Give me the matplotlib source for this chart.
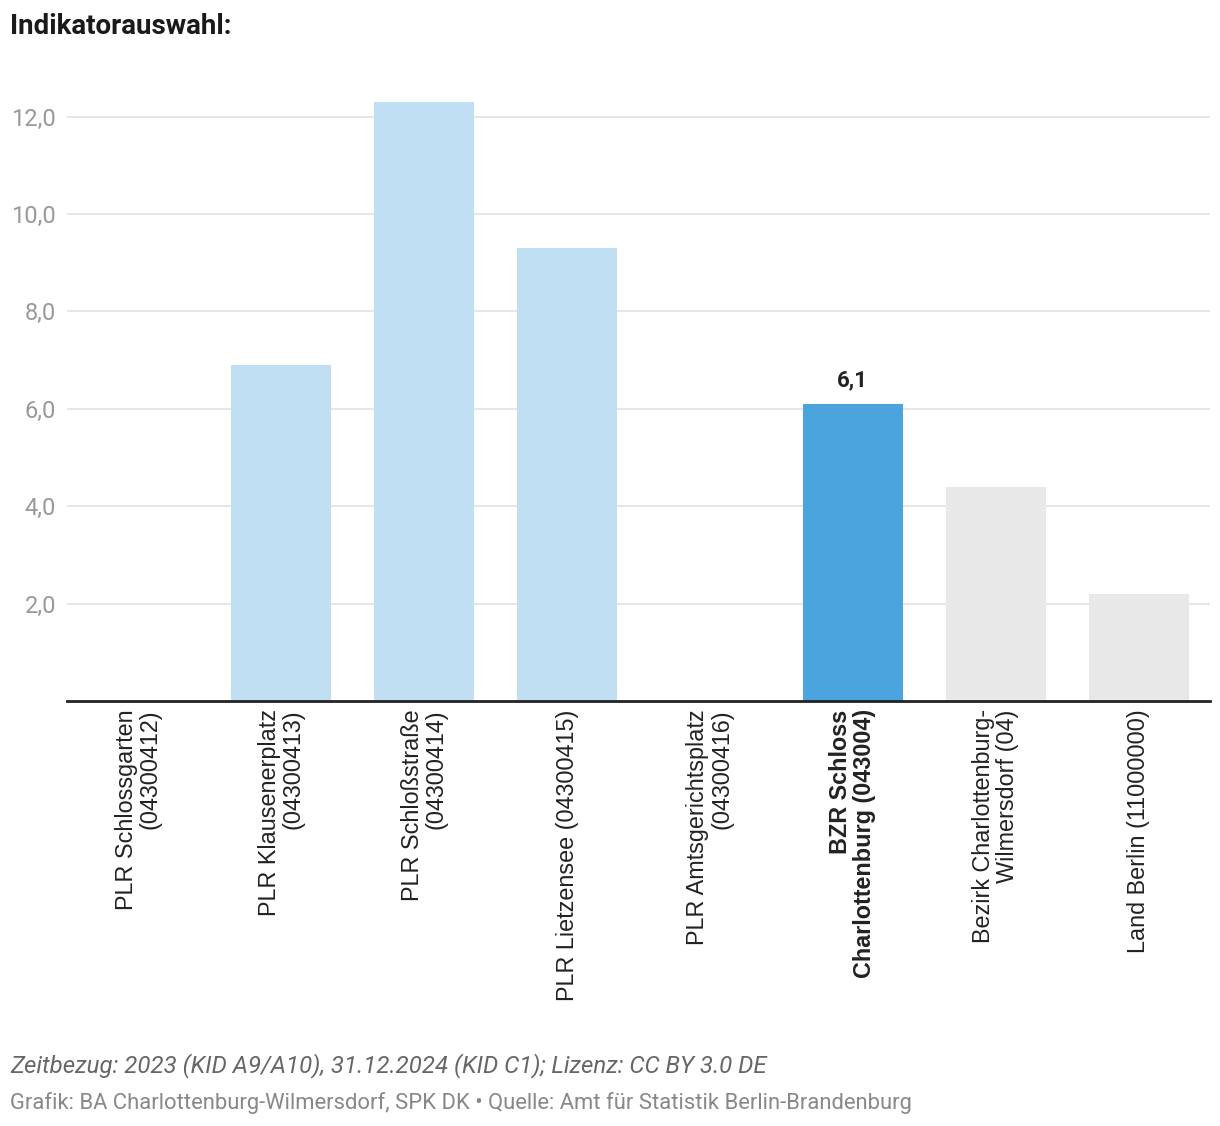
import numpy as np
import matplotlib.pyplot as plt

# data
labels = ['PLR Schlossgarten\n(04300412)', 'PLR Klausenerplatz\n(04300413)',
          'PLR Schloßstraße\n(04300414)', 'PLR Lietzensee (04300415)',
          'PLR Amtsgerichtsplatz\n(04300416)', 'BZR Schloss\nCharlottenburg (043004)',
          'Bezirk Charlottenburg-\nWilmersdorf (04)', 'Land Berlin (11000000)']
values = [0.0, 6.9, 12.3, 9.3, 0.0, 6.1, 4.4, 2.2]
colors = ['#c1dff3', '#c1dff3', '#c1dff3', '#c1dff3', '#c1dff3',
          '#4ba4dd', '#e8e8e8', '#e8e8e8']
highlight = 5
yticks = [2, 4, 6, 8, 10, 12]

fig = plt.figure(figsize=(12.2, 11.26), dpi=100)
W, H = 1220, 1126
ax = fig.add_axes([67 / W, 1 - 701 / H, (1210 - 67) / W, (701 - 68) / H])

x = np.arange(len(values))
ax.bar(x, values, width=0.7, color=colors, zorder=2)
ax.set_xlim(-0.5, len(values) - 0.5)
ax.set_ylim(0, 13)

ax.set_yticks(yticks)
ax.set_yticklabels([f'{v:.1f}'.replace('.', ',') for v in yticks],
                   fontfamily='Roboto', fontsize=17, color='#999999')
ax.tick_params(axis='y', length=0, pad=8)
ax.grid(axis='y', color='#e4e4e4', linewidth=1.3, zorder=0)

ax.set_xticks(x)
ax.set_xticklabels(labels, rotation=90, va='top', ha='center',
                   multialignment='right', fontfamily='Liberation Sans',
                   fontsize=16.8, color='#222222', linespacing=1.05)
ax.tick_params(axis='x', length=0, pad=6)
ax.get_xticklabels()[highlight].set_fontweight('bold')

for s in ['top', 'right', 'left']:
    ax.spines[s].set_visible(False)
ax.spines['bottom'].set_color('#222222')
ax.spines['bottom'].set_linewidth(2)
ax.spines['bottom'].set_zorder(3)

ax.annotate(f'{values[highlight]:.1f}'.replace('.', ','),
            (x[highlight], values[highlight]), xytext=(0, 9),
            textcoords='offset points', ha='center', va='bottom',
            fontfamily='Roboto', fontweight='bold', fontsize=16, color='#222222')

fig.text(10 / W, 1 - 27 / H, 'Indikatorauswahl:', fontfamily='Roboto',
         fontweight='bold', fontsize=20, color='#1a1a1a', va='center')
fig.text(10 / W, 1 - 1066 / H,
         'Zeitbezug: 2023 (KID A9/A10), 31.12.2024 (KID C1); Lizenz: CC BY 3.0 DE',
         fontfamily='Roboto', fontstyle='italic', fontsize=17.3, color='#666666',
         va='center')
fig.text(10 / W, 1 - 1103 / H,
         'Grafik: BA Charlottenburg-Wilmersdorf, SPK DK \u2022 Quelle: Amt für Statistik Berlin-Brandenburg',
         fontfamily='Roboto', fontsize=15.85, color='#888888', va='center')

fig.savefig('out.png', dpi=100, facecolor='white')
